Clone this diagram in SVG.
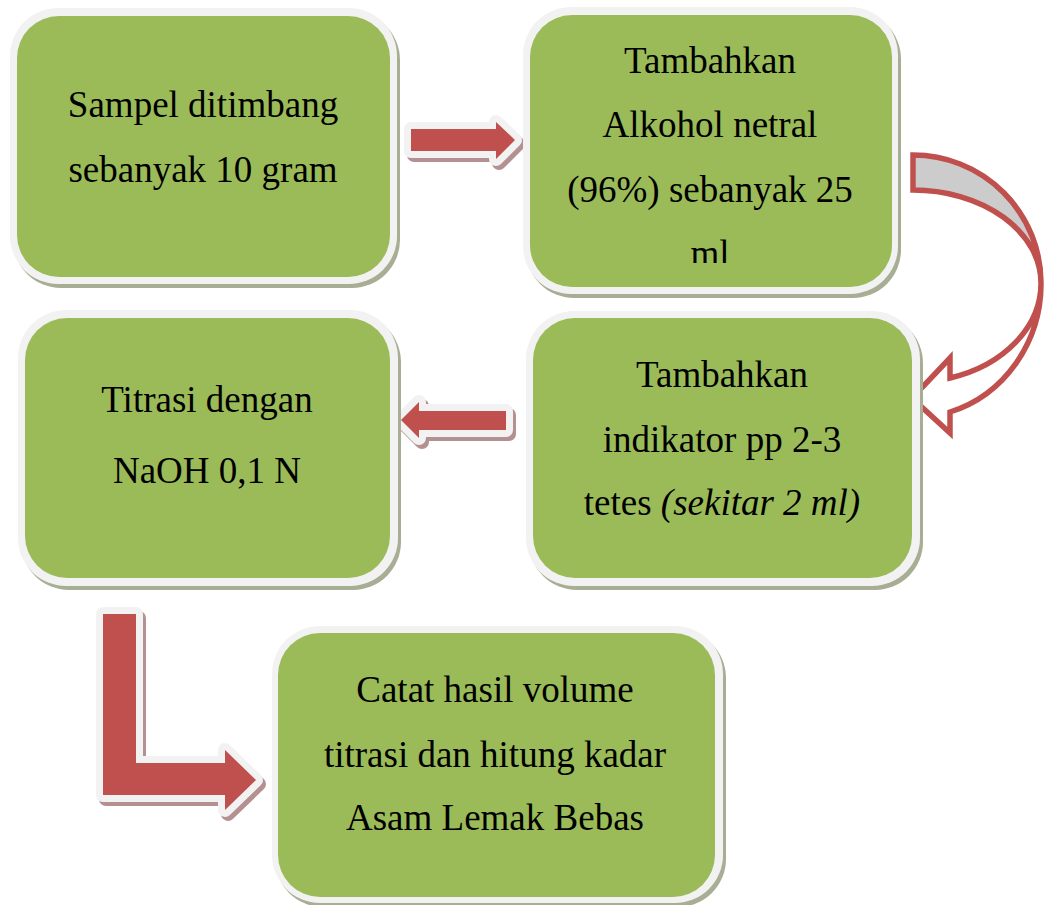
<svg xmlns="http://www.w3.org/2000/svg" width="1046" height="905" viewBox="0 0 1046 905">
<defs>
<style>
.sh{fill:#a8ae94}
.bd{fill:#f2f2f2}
.gr{fill:#9bbb59}
.tx{font-family:"Liberation Serif","Times New Roman",serif;font-size:37px;fill:#000;text-anchor:middle}
.ash{fill:#b59090;stroke:#b59090;stroke-width:14;stroke-linejoin:round}
.aol{fill:#f2f2f2;stroke:#f2f2f2;stroke-width:14;stroke-linejoin:round}
.ar{fill:#c0504d}
</style>
<clipPath id="c2"><rect x="530" y="15" width="362" height="248"/></clipPath>
</defs>
<rect width="1046" height="905" fill="#fff"/>

<g id="connectors">
  <g id="arrow1">
    <polygon class="ash" transform="translate(3,4)" points="411,129 496,129 496,122 515,140 496,159 496,151 411,151"/>
    <polygon class="aol" points="411,129 496,129 496,122 515,140 496,159 496,151 411,151"/>
    <polygon class="ar" points="411,129 496,129 496,122 515,140 496,159 496,151 411,151"/>
  </g>
  <g id="arrow2">
    <polygon class="ash" transform="translate(3,4)" points="401,420 419,402 419,411 506,411 506,430 419,430 419,438"/>
    <polygon class="aol" points="401,420 419,402 419,411 506,411 506,430 419,430 419,438"/>
    <polygon class="ar" points="401,420 419,402 419,411 506,411 506,430 419,430 419,438"/>
  </g>
  <g id="arrow3">
    <polygon class="ash" transform="translate(3,4)" points="103,614 136,614 136,763 225,763 225,750 256,780 225,810 225,795 103,795"/>
    <polygon class="aol" points="103,614 136,614 136,763 225,763 225,750 256,780 225,810 225,795 103,795"/>
    <polygon class="ar" points="103,614 136,614 136,763 225,763 225,750 256,780 225,810 225,795 103,795"/>
  </g>
  <g id="curved-arrow" stroke="#c0504d" stroke-width="5.5" stroke-linejoin="miter">
    <path d="M913,155 A128,128 0 0 1 1041,283 A128,93 0 0 0 913,190 Z" fill="#cccccc"/>
    <path d="M1041,283 A128,134 0 0 1 950,412 L950,433 L912,398 L950,358 L950,378 A128,99 0 0 0 1041,283 Z" fill="#ffffff"/>
  </g>
</g>

<g id="node1">
  <rect class="sh" x="13" y="12" width="387" height="276" rx="48"/>
  <rect class="bd" x="10" y="8" width="387" height="276" rx="48"/>
  <rect class="gr" x="17" y="16" width="373" height="261" rx="42"/>
  <text class="tx" x="203" y="117">Sampel ditimbang</text>
  <text class="tx" x="203" y="182">sebanyak 10 gram</text>
</g>

<g id="node2">
  <rect class="sh" x="526" y="11" width="375" height="287" rx="48"/>
  <rect class="bd" x="523" y="7" width="375" height="287" rx="48"/>
  <rect class="gr" x="530" y="15" width="362" height="272" rx="42"/>
  <text class="tx" x="710" y="73">Tambahkan</text>
  <text class="tx" x="710" y="137">Alkohol netral</text>
  <text class="tx" x="710" y="202">(96%) sebanyak 25</text>
  <text class="tx" x="710" y="266" clip-path="url(#c2)">ml</text>
</g>

<g id="node3">
  <rect class="sh" x="529" y="315" width="394" height="275" rx="48"/>
  <rect class="bd" x="526" y="311" width="394" height="275" rx="48"/>
  <rect class="gr" x="533" y="318" width="379" height="260" rx="42"/>
  <text class="tx" x="722" y="387">Tambahkan</text>
  <text class="tx" x="722" y="452">indikator pp 2-3</text>
  <text class="tx" x="722" y="515">tetes <tspan font-style="italic">(sekitar 2 ml)</tspan></text>
</g>

<g id="node4">
  <rect class="sh" x="21" y="314" width="380" height="276" rx="48"/>
  <rect class="bd" x="18" y="310" width="380" height="276" rx="48"/>
  <rect class="gr" x="25" y="318" width="365" height="260" rx="42"/>
  <text class="tx" x="207" y="412">Titrasi dengan</text>
  <text class="tx" x="207" y="483">NaOH 0,1 N</text>
</g>

<g id="node5">
  <rect class="sh" x="275" y="630" width="451" height="277" rx="48"/>
  <rect class="bd" x="272" y="626" width="451" height="277" rx="48"/>
  <rect class="gr" x="278" y="633" width="437" height="264" rx="42"/>
  <text class="tx" x="495" y="702">Catat hasil volume</text>
  <text class="tx" x="495" y="767">titrasi dan hitung kadar</text>
  <text class="tx" x="495" y="830">Asam Lemak Bebas</text>
</g>
</svg>
